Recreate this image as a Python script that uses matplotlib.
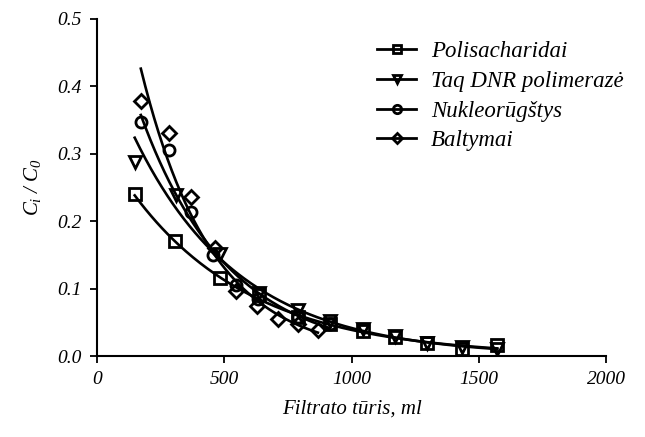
import numpy as np
import matplotlib
matplotlib.use("Agg")
import matplotlib.pyplot as plt
from matplotlib.lines import Line2D

plt.rcParams['font.family'] = ['Liberation Serif', 'DejaVu Serif']
plt.rcParams['font.style'] = 'italic'
plt.rcParams['mathtext.fontset'] = 'custom'
plt.rcParams['mathtext.rm'] = 'Liberation Serif:italic'
plt.rcParams['mathtext.it'] = 'Liberation Serif:italic'

# Data
labels = ['Polisacharidai', 'Taq DNR polimerazė', 'Nukleorūgštys', 'Baltymai']
markers = ['s', 'v', 'o', 'D']

x_poli = [149, 306, 483, 637, 790, 915, 1045, 1171, 1297, 1434, 1572]
y_poli = [0.240, 0.171, 0.116, 0.090, 0.058, 0.047, 0.038, 0.028, 0.019, 0.010, 0.017]

x_taq = [149, 310, 483, 637, 790, 915, 1045, 1171, 1297, 1434, 1572]
y_taq = [0.288, 0.239, 0.152, 0.094, 0.069, 0.052, 0.040, 0.030, 0.020, 0.014, 0.010]

x_nuk = [173, 283, 369, 456, 546, 633, 790, 915]
y_nuk = [0.347, 0.305, 0.214, 0.150, 0.105, 0.084, 0.058, 0.048]

x_balt = [173, 283, 369, 464, 546, 629, 711, 790, 868]
y_balt = [0.378, 0.330, 0.236, 0.160, 0.097, 0.074, 0.055, 0.048, 0.039]

series = [(x_poli, y_poli), (x_taq, y_taq), (x_nuk, y_nuk), (x_balt, y_balt)]

x_ticks = [0, 500, 1000, 1500, 2000]
y_ticks = [0.0, 0.1, 0.2, 0.3, 0.4, 0.5]

fig = plt.figure(figsize=(6.45, 4.37), dpi=100)
ax = fig.add_axes([0.150, 0.185, 0.790, 0.772])

for (xs, ys), m in zip(series, markers):
    xs = np.array(xs, float)
    ys = np.array(ys, float)
    b, a = np.polyfit(xs, np.log(ys), 1)
    xf = np.linspace(xs.min(), xs.max(), 200)
    ax.plot(xf, np.exp(a + b * xf), color='black', lw=1.9, zorder=2)
    ax.plot(xs, ys, linestyle='none', marker=m, ms=8 if m != 'D' else 7,
            mfc='none', mec='black', mew=2.0, zorder=3)

ax.set_xlim(0, 2000)
ax.set_ylim(0, 0.5)
ax.set_xticks(x_ticks)
ax.set_yticks(y_ticks)
ax.set_xticklabels([str(t) for t in x_ticks])
ax.set_yticklabels([f'{t:.1f}' for t in y_ticks])
ax.tick_params(direction='out', length=5, width=1.3, labelsize=14, pad=6)
for s in ['top', 'right']:
    ax.spines[s].set_visible(False)
for s in ['left', 'bottom']:
    ax.spines[s].set_linewidth(1.5)

ax.set_xlabel('Filtrato tūris, ml', fontsize=15, labelpad=8)
ax.set_ylabel(r'$C_i\ /\ C_0$', fontsize=15, labelpad=10)

handles = [Line2D([0], [0], color='black', lw=2.0, marker=m, ms=6 if m != 'D' else 5,
                  mfc='none', mec='black', mew=2.0) for m in markers]
leg = ax.legend(handles, labels, loc='upper left', bbox_to_anchor=(0.51, 0.995),
                frameon=False, fontsize=16.5, handlelength=1.7, labelspacing=0.38,
                handletextpad=0.65)

fig.savefig('out.png', dpi=100)
